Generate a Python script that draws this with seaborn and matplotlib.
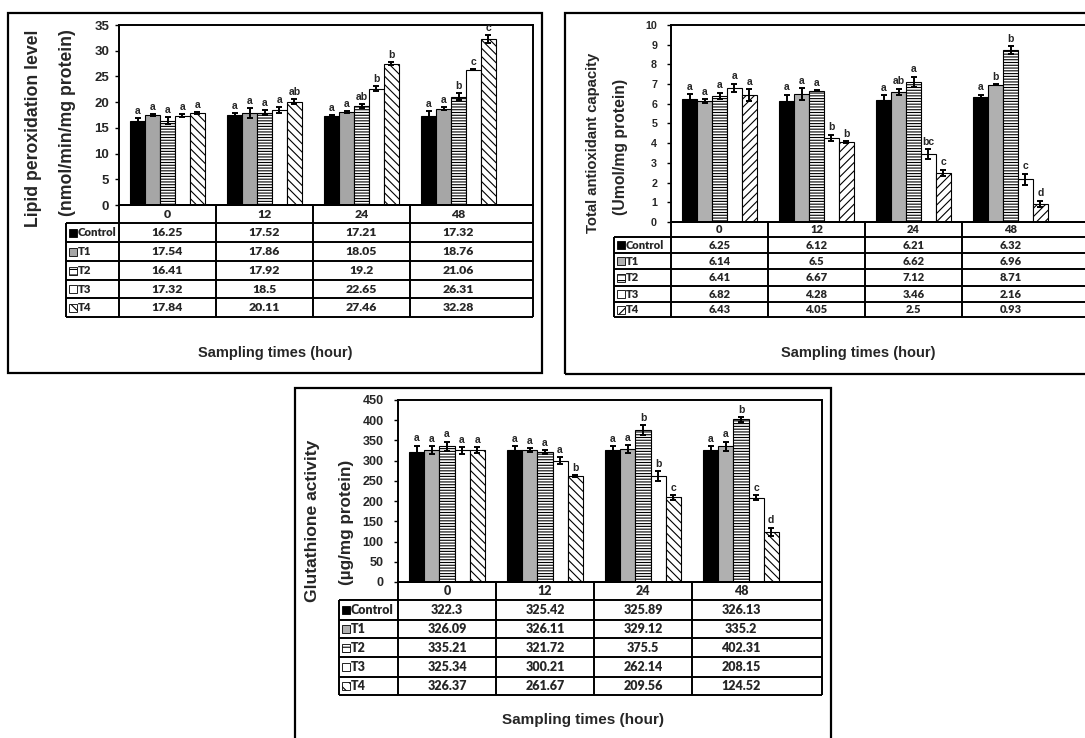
import numpy as np
import pandas as pd
import matplotlib.pyplot as plt
from matplotlib.patches import Rectangle
import seaborn as sns

# sampling times and treatment groups
times = ["0", "12", "24", "48"]
groups = ["Control", "T1", "T2", "T3", "T4"]

# lipid peroxidation (rows = groups, cols = times)
lipid_means = [[16.25, 17.52, 17.21, 17.32],
               [17.54, 17.86, 18.05, 18.76],
               [16.41, 17.92, 19.2, 21.06],
               [17.32, 18.5, 22.65, 26.31],
               [17.84, 20.11, 27.46, 32.28]]
lipid_err = [[0.7, 0.3, 0.3, 1.0],
             [0.2, 1.0, 0.2, 0.3],
             [0.7, 0.5, 0.4, 0.7],
             [0.3, 0.6, 0.5, 0.1],
             [0.2, 0.5, 0.3, 0.8]]
lipid_letters = [["a", "a", "a", "a"],
                 ["a", "a", "a", "a"],
                 ["a", "a", "ab", "b"],
                 ["a", "a", "b", "c"],
                 ["a", "ab", "b", "c"]]

# total antioxidant capacity
tac_means = [[6.25, 6.12, 6.21, 6.32],
             [6.14, 6.5, 6.62, 6.96],
             [6.41, 6.67, 7.12, 8.71],
             [6.82, 4.28, 3.46, 2.16],
             [6.43, 4.05, 2.5, 0.93]]
tac_err = [[0.25, 0.35, 0.22, 0.15],
           [0.1, 0.3, 0.15, 0.03],
           [0.15, 0.03, 0.25, 0.2],
           [0.2, 0.15, 0.25, 0.3],
           [0.3, 0.05, 0.15, 0.15]]
tac_letters = [["a", "a", "a", "a"],
               ["a", "a", "ab", "b"],
               ["a", "a", "a", "b"],
               ["a", "b", "bc", "c"],
               ["a", "b", "c", "d"]]

# glutathione activity
gsh_means = [[322.3, 325.42, 325.89, 326.13],
             [326.09, 326.11, 329.12, 335.2],
             [335.21, 321.72, 375.5, 402.31],
             [325.34, 300.21, 262.14, 208.15],
             [326.37, 261.67, 209.56, 124.52]]
gsh_err = [[15, 10, 10, 10],
           [10, 4, 10, 12],
           [12, 5, 12, 6],
           [8, 8, 12, 6],
           [7, 3, 6, 10]]
gsh_letters = [["a", "a", "a", "a"],
               ["a", "a", "a", "a"],
               ["a", "a", "b", "b"],
               ["a", "a", "b", "c"],
               ["a", "b", "c", "d"]]

sns.set_style("white")
plt.rcParams["font.family"] = ["Liberation Sans", "DejaVu Sans"]
plt.rcParams["hatch.linewidth"] = 0.8

W, H = 1085, 738
fig = plt.figure(figsize=(W / 100, H / 100), dpi=100)


def px_axes(l, t, r, b):
    return fig.add_axes([l / W, 1 - b / H, (r - l) / W, (b - t) / H])


def panel_box(l, t, r, b):
    fig.add_artist(Rectangle((l / W, 1 - b / H), (r - l) / W, (b - t) / H,
                             transform=fig.transFigure, fill=False,
                             lw=1.6, ec="black"))


def fig_text(x, y, s, fs, rot=0):
    fig.text(x / W, 1 - y / H, s, rotation=rot, ha="center", va="center",
             fontsize=fs, fontweight="bold")


def draw_panel(means, errs, letters, ymax, ystep, t4_hatch, plot, cat_w,
               label_left, rows, tick_fs, tick_pad, table_fs, label_fs,
               t1_color):
    l, t, r, b = plot
    ax = px_axes(l, t, r, b)

    df = pd.DataFrame({
        "time": [tm for g in groups for tm in times],
        "group": [g for g in groups for tm in times],
        "value": [v for row in means for v in row],
    })
    colors = {"Control": "black", "T1": t1_color, "T2": "white",
              "T3": "white", "T4": "white"}
    sns.barplot(data=df, x="time", y="value", hue="group", order=times,
                hue_order=groups, palette=colors, saturation=1, width=0.77,
                gap=0, edgecolor="black", linewidth=0.8, errorbar=None,
                legend=False, ax=ax)

    bar_conts = list(ax.containers)
    hatches = [None, None, "------", None, t4_hatch]
    for cont, h in zip(bar_conts, hatches):
        for p in cont:
            if h:
                p.set_hatch(h)

    for gi, cont in enumerate(bar_conts):
        xs = [p.get_x() + p.get_width() / 2 for p in cont]
        hs = [p.get_height() for p in cont]
        ax.errorbar(xs, hs, yerr=errs[gi], fmt="none", ecolor="black",
                    elinewidth=1.4, capsize=2.5, capthick=1.4, zorder=4)
        for x, h, e, s in zip(xs, hs, errs[gi], letters[gi]):
            ax.text(x, h + e + ymax * 0.012, s, ha="center", va="bottom",
                    fontsize=7.5, fontweight="bold")

    xmax = -0.5 + (r - l) / cat_w
    ax.set_xlim(-0.5, xmax)
    ax.set_ylim(0, ymax)
    ticks = np.arange(0, ymax + ystep / 2, ystep)
    ax.set_yticks(ticks, labels=[f"{v:g}" for v in ticks],
                  fontsize=tick_fs, fontweight="bold")
    ax.set_xticks([])
    ax.set_xlabel("")
    ax.set_ylabel("")
    ax.tick_params(axis="y", left=True, length=3, width=1, pad=tick_pad,
                   color="black")
    for sp in ax.spines.values():
        sp.set_linewidth(1.4)
        sp.set_color("black")

    # data table under the bars
    tax = px_axes(label_left, rows[0], r, rows[-1])
    u = (xmax + 0.5) / (r - l)
    x0 = -0.5 - (l - label_left) * u
    tax.set_xlim(x0, xmax)
    tax.set_ylim(rows[-1], rows[0])
    tax.axis("off")
    lw = 1.4
    tax.hlines(rows[0], -0.5, xmax, color="black", lw=lw, clip_on=False)
    tax.hlines(rows[1:], x0, xmax, color="black", lw=lw, clip_on=False)
    tax.vlines([-0.5, 0.5, 1.5, 2.5, xmax], rows[0], rows[-1], color="black",
               lw=lw, clip_on=False)
    tax.vlines(x0, rows[1], rows[-1], color="black", lw=lw, clip_on=False)

    tfont = dict(family="Lato", fontweight="heavy", va="center")
    for ti, tm in enumerate(times):
        tax.text(ti, (rows[0] + rows[1]) / 2, tm, ha="center",
                 fontsize=table_fs, **tfont)
    key_hatch = [None, None, "---", None, t4_hatch[:3]]
    for gi, g in enumerate(groups):
        ym = (rows[gi + 1] + rows[gi + 2]) / 2
        for ti in range(len(times)):
            tax.text(ti, ym, str(means[gi][ti]), ha="center",
                     fontsize=table_fs, **tfont)
        tax.add_patch(Rectangle((x0 + 3 * u, ym - 4), 8 * u, 8,
                                facecolor=colors[g], edgecolor="black",
                                lw=0.6, hatch=key_hatch[gi]))
        tax.text(x0 + 12 * u, ym, g, ha="left", fontsize=label_fs, **tfont)
    return ax


# panel 1: lipid peroxidation
panel_box(8, 13, 542, 373)
draw_panel(lipid_means, lipid_err, lipid_letters, 35, 5, "\\\\\\\\",
           (119, 25, 533, 205), 97, 66,
           [205, 223, 242, 261, 280, 298, 317], 9.5, 4, 8.8, 8.2, "#a6a6a6")
fig_text(34, 128, "Lipid peroxidation level", 12.7, 90)
fig_text(68, 123, "(nmol/min/mg protein)", 12.7, 90)
fig_text(275, 353, "Sampling times (hour)", 10.5)

# panel 2: total antioxidant capacity
panel_box(565, 13, 1100, 374)
draw_panel(tac_means, tac_err, tac_letters, 10, 1, "////",
           (671, 25, 1095, 222), 97, 614,
           [222, 237, 253, 269, 286, 302, 317], 7.7, 7, 8, 8, "#b0b0b0")
fig_text(593, 143, "Total antioxidant capacity", 10.7, 90)
fig_text(621, 147, "(Umol/mg protein)", 11.3, 90)
fig_text(858, 353, "Sampling times (hour)", 10.5)

# panel 3: glutathione activity
panel_box(295, 388, 831, 745)
draw_panel(gsh_means, gsh_err, gsh_letters, 450, 50, "\\\\\\\\",
           (398, 400, 822, 582), 98, 339,
           [582, 600, 620, 638, 657, 677, 695], 9, 7.5, 9, 9, "#b0b0b0")
fig_text(313, 521, "Glutathione activity", 12.6, 90)
fig_text(347, 522, "(\u00b5g/mg protein)", 12.3, 90)
fig_text(583, 720, "Sampling times (hour)", 11)

fig.savefig("out.png", dpi=100)
